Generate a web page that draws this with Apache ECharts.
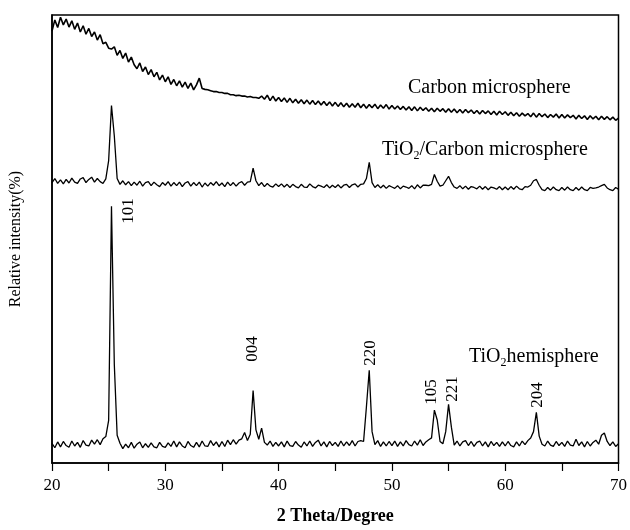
<!DOCTYPE html>
<html>
<head>
<meta charset="utf-8">
<script src="https://cdn.jsdelivr.net/npm/echarts@6/dist/echarts.min.js"></script>
<style>
  html, body { margin: 0; padding: 0; background: #fff; }
  #main { width: 630px; height: 530px; }
</style>
</head>
<body>
<div id="main"></div>
<script>
// 2 theta sampling: 20 .. 70 deg, step 0.25
var angleStart = 20;
var angleStep = 0.25;

// Carbon microsphere (top curve), relative units
var carbonVals = [
  96.4, 98.9, 97.2, 99.5, 97.8, 99.1, 97.3, 98.7, 96.8, 98.2, 96.2, 97.6, 95.7, 97.0, 95.2, 96.2, 94.4, 95.6, 93.6, 93.9,
  92.6, 92.4, 92.9, 91.0, 92.1, 90.3, 91.5, 89.5, 90.6, 88.9, 88.0, 89.3, 87.4, 88.4, 86.7, 87.8, 86.2, 87.2, 85.5, 86.6,
  85.1, 86.2, 84.5, 85.6, 84.2, 85.3, 83.9, 85.0, 83.6, 84.8, 83.3, 84.4, 85.9, 83.6, 83.4, 83.3, 83.1, 82.9, 82.9, 82.7,
  82.7, 82.5, 82.5, 82.2, 82.2, 82.0, 82.1, 81.9, 81.9, 81.7, 81.8, 81.6, 81.6, 81.4, 81.9, 81.2, 82.1, 80.9, 81.9, 80.8,
  81.6, 80.7, 81.5, 80.5, 81.4, 80.4, 81.2, 80.3, 81.1, 80.2, 81.0, 80.1, 80.9, 80.0, 80.8, 79.9, 80.7, 79.8, 80.6, 79.7,
  80.5, 79.6, 80.4, 79.5, 80.3, 79.4, 80.2, 79.4, 80.3, 79.3, 80.1, 79.2, 80.0, 79.3, 80.1, 79.1, 79.9, 79.2, 80.0, 79.0,
  79.8, 79.0, 79.7, 78.9, 79.6, 78.8, 79.5, 78.7, 79.5, 78.6, 79.4, 78.7, 79.3, 78.5, 79.2, 78.4, 79.2, 78.5, 79.1, 78.3,
  79.1, 78.3, 79.0, 78.2, 78.9, 78.1, 78.9, 78.2, 78.8, 78.0, 78.7, 77.9, 78.7, 78.0, 78.6, 77.8, 78.5, 77.7, 78.5, 77.8,
  78.4, 77.6, 78.3, 77.5, 78.2, 77.4, 78.1, 77.5, 78.0, 77.3, 78.1, 77.2, 78.0, 77.3, 77.9, 77.1, 77.8, 77.2, 77.9, 77.0,
  77.8, 77.0, 77.7, 77.1, 77.6, 76.8, 77.6, 76.9, 77.5, 76.7, 77.5, 76.8, 77.4, 76.6, 77.4, 76.7, 77.3, 76.6, 77.2, 76.5,
  77.0
];

// TiO2/Carbon microsphere (middle curve)
var tiCarbonVals = [
  62.6, 63.5, 62.4, 63.2, 62.3, 63.3, 62.5, 63.6, 62.7, 62.4, 63.4, 63.7, 62.6, 63.3, 63.8, 62.7, 63.5, 62.8, 62.4, 63.4,
  67.5, 79.8, 73.0, 63.5, 62.2, 63.0, 62.1, 62.8, 61.9, 62.7, 62.0, 62.9, 61.8, 62.6, 62.8, 61.9, 62.7, 62.1, 61.7, 62.6,
  62.0, 62.8, 61.8, 62.6, 61.9, 62.7, 61.7, 62.5, 62.8, 61.8, 62.6, 61.9, 62.7, 61.6, 62.5, 61.8, 62.6, 62.0, 62.8, 61.9,
  62.5, 61.7, 62.7, 61.9, 62.6, 61.8, 62.5, 62.8, 62.0, 62.7, 62.8, 65.8, 63.0, 61.9, 62.6, 61.7, 62.4, 61.8, 61.6, 62.3,
  61.7, 62.3, 61.6, 62.2, 61.5, 62.2, 61.7, 61.4, 62.2, 61.6, 61.5, 62.3, 61.7, 61.4, 62.0, 61.8, 61.5, 62.1, 61.4, 62.0,
  61.5, 62.1, 61.4, 62.0, 62.2, 61.5, 62.1, 62.3, 61.6, 62.2, 62.3, 63.5, 67.1, 62.6, 61.5, 62.1, 61.4, 62.0, 61.3, 61.9,
  61.6, 61.3, 61.9, 61.2, 61.8, 61.6, 61.3, 61.9, 61.2, 62.1, 61.4, 62.0, 62.0, 61.9, 62.2, 64.4, 62.9, 61.8, 62.0, 63.0,
  64.0, 62.6, 61.6, 61.3, 61.9, 61.2, 61.8, 61.1, 61.7, 61.5, 61.2, 61.8, 61.1, 61.7, 61.0, 61.6, 61.4, 61.1, 61.7, 61.0,
  61.6, 61.0, 61.7, 61.1, 61.8, 61.2, 61.0, 61.7, 61.6, 62.0, 63.0, 63.3, 62.0, 61.0, 60.8, 61.5, 60.9, 61.6, 61.0, 60.8,
  61.5, 60.9, 61.6, 61.0, 60.8, 61.5, 60.9, 61.6, 61.0, 60.8, 61.5, 61.3, 61.4, 61.6, 61.9, 62.2, 61.4, 61.0, 60.8, 61.5,
  61.1
];

// TiO2 hemisphere (bottom curve)
var hemiVals = [
  4.4, 3.4, 4.7, 3.6, 4.8, 3.9, 3.5, 4.9, 3.8, 4.6, 3.5, 5.0, 4.0, 3.8, 5.1, 4.2, 5.2, 4.1, 5.4, 5.9,
  9.5, 57.3, 22.0, 6.2, 4.4, 3.2, 4.2, 3.4, 4.6, 3.3, 4.2, 4.7, 3.4, 4.3, 3.5, 4.5, 3.6, 3.4, 4.6, 3.7,
  3.5, 4.5, 3.7, 4.9, 3.6, 4.7, 3.8, 3.4, 4.8, 3.9, 3.5, 4.6, 3.6, 4.9, 3.8, 3.7, 5.0, 3.9, 4.7, 3.6,
  4.8, 3.7, 5.1, 4.1, 5.2, 4.2, 5.1, 5.4, 6.8, 5.0, 6.4, 16.2, 7.4, 5.3, 7.8, 4.6, 4.0, 4.9, 3.7, 4.6,
  3.8, 4.7, 3.6, 4.9, 3.9, 3.7, 4.8, 4.0, 3.5, 4.7, 3.8, 4.9, 3.7, 4.6, 5.1, 3.8, 4.7, 3.6, 4.8, 3.9,
  4.6, 3.7, 4.9, 3.8, 4.7, 3.9, 5.0, 3.8, 4.8, 5.0, 4.8, 12.5, 20.7, 7.0, 4.1, 5.0, 3.7, 4.7, 3.8, 4.8,
  3.9, 4.9, 3.7, 4.7, 3.8, 5.0, 4.1, 3.8, 4.9, 4.0, 5.2, 3.9, 4.7, 5.2, 5.6, 11.8, 9.6, 4.8, 4.3, 7.0,
  13.1, 8.0, 4.0, 4.9, 3.8, 4.7, 5.0, 3.9, 4.8, 3.7, 4.6, 4.9, 3.8, 4.7, 3.6, 4.8, 3.9, 4.6, 3.7, 4.7,
  3.8, 4.8, 3.9, 3.6, 4.7, 3.8, 4.9, 4.1, 5.0, 5.6, 7.0, 11.3, 6.0, 4.2, 3.8, 4.9, 4.0, 3.7, 4.8, 3.9,
  4.6, 3.7, 4.9, 4.0, 3.8, 5.3, 3.9, 4.7, 3.6, 4.8, 3.8, 4.6, 5.1, 4.2, 6.2, 6.7, 4.8, 3.9, 4.7, 3.7,
  4.3
];

// x tick values
var xTicks = [20, 30, 40, 50, 60, 70];

function pairs(vals) {
  return vals.map(function (v, i) {
    return [angleStart + i * angleStep, v];
  });
}

var serif = "'Liberation Serif', 'DejaVu Serif', serif";

function peakLabel(txt, x, y) {
  return {
    type: "text",
    x: x,
    y: y,
    rotation: Math.PI / 2,
    style: {
      text: txt,
      font: "17px " + serif,
      fill: "#000",
      align: "center",
      verticalAlign: "middle",
    },
  };
}

var chart = echarts.init(document.getElementById("main"));
chart.setOption({
  animation: false,
  backgroundColor: "#fff",
  grid: {
    left: 52,
    right: 8,
    top: 15,
    bottom: 65,
    show: true,
    borderColor: "#000",
    borderWidth: 1.5,
  },
  xAxis: {
    type: "value",
    min: xTicks[0],
    max: xTicks[xTicks.length - 1],
    interval: 10,
    name: "2 Theta/Degree",
    nameLocation: "middle",
    nameGap: 44,
    nameTextStyle: {
      fontFamily: serif,
      fontSize: 18,
      fontWeight: "bold",
      color: "#000",
    },
    axisLine: { lineStyle: { color: "#000", width: 1.5 } },
    axisTick: { show: true, inside: false, length: 8, lineStyle: { color: "#000", width: 1.2 } },
    minorTick: { show: true, splitNumber: 2, length: 8, lineStyle: { color: "#000", width: 1.2 } },
    axisLabel: { fontFamily: serif, fontSize: 17, color: "#000", margin: 14 },
    splitLine: { show: false },
  },
  yAxis: {
    type: "value",
    min: 0,
    max: 100,
    name: "Relative intensity(%)",
    nameLocation: "middle",
    nameGap: 28,
    nameRotate: 90,
    nameTextStyle: { fontFamily: serif, fontSize: 16, color: "#000" },
    axisLine: { show: true, lineStyle: { color: "#000", width: 1.5 } },
    axisTick: { show: false },
    axisLabel: { show: false },
    splitLine: { show: false },
  },
  series: [
    {
      name: "Carbon microsphere",
      type: "line",
      data: pairs(carbonVals),
      showSymbol: false,
      lineStyle: { color: "#000", width: 1.6 },
    },
    {
      name: "TiO2/Carbon microsphere",
      type: "line",
      data: pairs(tiCarbonVals),
      showSymbol: false,
      lineStyle: { color: "#000", width: 1.3 },
    },
    {
      name: "TiO2 hemisphere",
      type: "line",
      data: pairs(hemiVals),
      showSymbol: false,
      lineStyle: { color: "#000", width: 1.3 },
    },
  ],
  graphic: [
    {
      type: "text",
      x: 408,
      y: 88,
      style: {
        text: "Carbon microsphere",
        font: "20px " + serif,
        fill: "#000",
        verticalAlign: "middle",
      },
    },
    {
      type: "text",
      x: 382,
      y: 150,
      style: {
        text: "{a|TiO}{s|2}{a|/Carbon microsphere}",
        verticalAlign: "middle",
        rich: {
          a: { fontFamily: serif, fontSize: 20, color: "#000", lineHeight: 24 },
          s: { fontFamily: serif, fontSize: 12, color: "#000", lineHeight: 12, verticalAlign: "bottom" },
        },
      },
    },
    {
      type: "text",
      x: 469,
      y: 357,
      style: {
        text: "{a|TiO}{s|2}{a|hemisphere}",
        verticalAlign: "middle",
        rich: {
          a: { fontFamily: serif, fontSize: 20, color: "#000", lineHeight: 24 },
          s: { fontFamily: serif, fontSize: 12, color: "#000", lineHeight: 12, verticalAlign: "bottom" },
        },
      },
    },
    peakLabel("101", 129, 211),
    peakLabel("004", 253, 349),
    peakLabel("220", 371, 353),
    peakLabel("105", 432, 392),
    peakLabel("221", 453, 389),
    peakLabel("204", 538, 395),
  ],
});
</script>
</body>
</html>
